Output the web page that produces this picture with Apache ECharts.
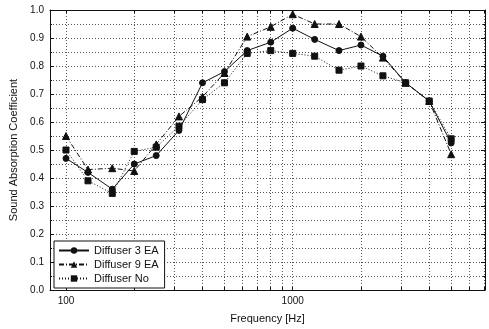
<!DOCTYPE html>
<html>
<head>
<meta charset="utf-8">
<script src="https://cdn.jsdelivr.net/npm/echarts@6/dist/echarts.min.js"></script>
<style>
  html, body { margin: 0; padding: 0; background: #fff; }
  #chart { width: 489px; height: 329px; }
</style>
</head>
<body>
<div id="chart"></div>
<script>
// 1/3-octave band centre frequencies (Hz)
const frequencies = [100, 125, 160, 200, 250, 315, 400, 500, 630, 800, 1000, 1250, 1600, 2000, 2500, 3150, 4000, 5000];

// Sound absorption coefficients per configuration
const diffuser3EA = [0.47, 0.42, 0.36, 0.45, 0.48, 0.57, 0.74, 0.78, 0.855, 0.885, 0.935, 0.895, 0.855, 0.875, 0.835, 0.74, 0.675, 0.525];
const diffuser9EA = [0.55, 0.43, 0.435, 0.425, 0.52, 0.62, 0.69, 0.775, 0.905, 0.94, 0.985, 0.95, 0.95, 0.905, 0.83, 0.74, 0.675, 0.485];
const diffuserNo  = [0.50, 0.39, 0.345, 0.495, 0.51, 0.585, 0.68, 0.74, 0.845, 0.855, 0.845, 0.835, 0.785, 0.80, 0.765, 0.74, 0.675, 0.54];

// Axis tick values
const freqLabels = [100, 1000];
const freqTicks = [100, 200, 300, 400, 500, 600, 700, 800, 900, 1000, 2000, 3000, 4000, 5000, 6000, 7000];

const FONT = 'Liberation Sans, Arial, sans-serif';
const INK = '#111';

const pairs = (ys) => frequencies.map((f, i) => [f, ys[i]]);

const chart = echarts.init(document.getElementById('chart'), null, { renderer: 'canvas' });

const gridDots = { show: true, lineStyle: { color: '#555', width: 1, type: [1, 2] } };

const xCommon = {
  type: 'log',
  logBase: 10,
  min: 85,
  max: 7050,
  axisLine: { show: true, onZero: false, lineStyle: { color: INK, width: 1 } },
  axisTick: { show: true, inside: true, length: 3, customValues: freqTicks, lineStyle: { color: INK } },
  minorTick: { show: false },
  minorSplitLine: { show: false }
};

const yCommon = {
  type: 'value',
  min: 0,
  max: 1,
  interval: 0.1,
  axisLine: { show: true, lineStyle: { color: INK, width: 1 } },
  axisTick: { show: true, inside: true, length: 4, lineStyle: { color: INK } },
  minorTick: { show: true, splitNumber: 2, length: 2, lineStyle: { color: INK } }
};

const option = {
  backgroundColor: '#fff',
  animation: false,
  textStyle: { fontFamily: FONT, color: INK },
  grid: { left: 50, right: 4, top: 10, bottom: 36, containLabel: false },
  xAxis: [
    Object.assign({}, xCommon, {
      position: 'bottom',
      name: 'Frequency [Hz]',
      nameLocation: 'middle',
      nameGap: 23,
      nameTextStyle: { fontFamily: FONT, fontSize: 11, color: INK },
      axisLabel: { show: true, customValues: freqLabels, margin: 6, fontFamily: FONT, fontSize: 10, color: INK,
                   formatter: (v) => String(Math.round(v)) },
      splitLine: gridDots
    }),
    Object.assign({}, xCommon, {
      position: 'top',
      axisLabel: { show: false },
      splitLine: { show: false }
    })
  ],
  yAxis: [
    Object.assign({}, yCommon, {
      position: 'left',
      name: 'Sound Absorption Coefficient',
      nameLocation: 'middle',
      nameGap: 31,
      nameTextStyle: { fontFamily: FONT, fontSize: 11, color: INK },
      axisLabel: { show: true, margin: 6, fontFamily: FONT, fontSize: 10, color: INK,
                   formatter: (v) => v.toFixed(1) },
      splitLine: gridDots,
      minorSplitLine: gridDots
    }),
    Object.assign({}, yCommon, {
      position: 'right',
      axisLabel: { show: false },
      splitLine: { show: false },
      minorSplitLine: { show: false }
    })
  ],
  legend: {
    orient: 'vertical',
    left: 54,
    bottom: 41,
    width: 117,
    padding: [4, 6, 4, 4],
    itemGap: 3,
    itemWidth: 30,
    itemHeight: 8,
    backgroundColor: '#fff',
    borderColor: INK,
    borderWidth: 1,
    borderRadius: 0,
    textStyle: { fontFamily: FONT, fontSize: 11, color: INK, padding: [0, 0, 0, 0] },
    data: ['Diffuser 3 EA', 'Diffuser 9 EA', 'Diffuser No']
  },
  series: [
    {
      name: 'Diffuser 3 EA',
      type: 'line',
      data: pairs(diffuser3EA),
      symbol: 'circle',
      symbolSize: 6,
      lineStyle: { color: INK, width: 1, type: 'solid' },
      itemStyle: { color: INK, borderColor: INK }
    },
    {
      name: 'Diffuser 9 EA',
      type: 'line',
      data: pairs(diffuser9EA),
      symbol: 'triangle',
      symbolSize: 7,
      lineStyle: { color: INK, width: 1, type: [5, 2, 1, 2] },
      itemStyle: { color: INK, borderColor: INK }
    },
    {
      name: 'Diffuser No',
      type: 'line',
      data: pairs(diffuserNo),
      symbol: 'rect',
      symbolSize: 6,
      lineStyle: { color: INK, width: 1, type: [1, 2] },
      itemStyle: { color: INK, borderColor: INK }
    }
  ]
};

chart.setOption(option);
</script>
</body>
</html>
